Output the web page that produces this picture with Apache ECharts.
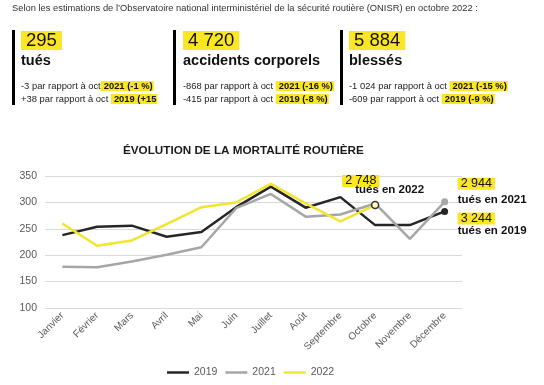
<!DOCTYPE html>
<html><head><meta charset="utf-8">
<script src="https://cdn.jsdelivr.net/npm/echarts@6/dist/echarts.min.js"></script>
<style>html,body{margin:0;padding:0;background:#fff}#c{width:544px;height:385px}</style>
</head><body><div id="c"></div>
<script>
// ---- data ----
const months = ['Janvier','Février','Mars','Avril','Mai','Juin','Juillet','Août','Septembre','Octobre','Novembre','Décembre'];
const deaths2019 = [238,254,256,235,244,291,330,290,310,257,257,283];
const deaths2021 = [178,177,188,201,215,289,316,273,277,298,231,301];
const deaths2022 = [260,218,228,259,291,300,335,298,264,295,null,null];
const yMin = 100, yMax = 350, yStep = 50;
const seriesNames = ['2019','2021','2022'];
const chartTitle = 'ÉVOLUTION DE LA MORTALITÉ ROUTIÈRE';
const intro = 'Selon les estimations de l\u2019Observatoire national interministériel de la sécurité routière (ONISR) en octobre 2022 :';
const kpiValues = ['295','4 720','5 884'];
const kpiLabels = ['tués','accidents corporels','blessés'];
const kpiLine1 = [['-3 par rapport à oct','2021 (-1 %)'],['-868 par rapport à oct ','2021 (-16 %)'],['-1 024 par rapport à oct ','2021 (-15 %)']];
const kpiLine2 = [['+38 par rapport à oct ','2019 (+15'],['-415 par rapport à oct ','2019 (-8 %)'],['-609 par rapport à oct ','2019 (-9 %)']];
const totals = {y2022:'2 748', y2021:'2 944', y2019:'3 244'};
const totalLabels = {y2022:'tués en 2022', y2021:'tués en 2021', y2019:'tués en 2019'};

// ---- style ----
const FONT = '"Liberation Sans", Arial, sans-serif';
const YEL = '#fbe626';
const C19 = '#262626', C21 = '#a6a6a6', C22 = '#f2e431';

const chart = echarts.init(document.getElementById('c'), null, {renderer:'canvas'});

const blockX = [21, 183, 349];
const barX = [12, 173, 340];
const base = [];
base.push({type:'text', x:12, y:4, style:{text:intro, fontFamily:FONT, fontSize:9.35, fill:'#333', verticalAlign:'top'}});
for (let i=0;i<3;i++){
  base.push({type:'rect', shape:{x:barX[i], y:30, width:3, height:75}, style:{fill:'#000'}});
  base.push({type:'text', x:blockX[i], y:31, style:{text:kpiValues[i], fontFamily:FONT, fontSize:18.5, lineHeight:19, fill:'#111', backgroundColor:YEL, padding:[0,5,0,5], verticalAlign:'top'}});
  base.push({type:'text', x:blockX[i], y:53, style:{text:kpiLabels[i], fontFamily:FONT, fontSize:14.5, fontWeight:'bold', fill:'#111', verticalAlign:'top'}});
  const rich = {h:{fontFamily:FONT, fontSize:9.4, fontWeight:'bold', fill:'#111', backgroundColor:YEL, padding:[1,1,0,3]}};
  base.push({type:'text', x:blockX[i], y:81, style:{text:kpiLine1[i][0]+'{h|'+kpiLine1[i][1]+'}', fontFamily:FONT, fontSize:9.4, fill:'#222', verticalAlign:'top', rich}});
  base.push({type:'text', x:blockX[i], y:94, style:{text:kpiLine2[i][0]+'{h|'+kpiLine2[i][1]+'}', fontFamily:FONT, fontSize:9.4, fill:'#222', verticalAlign:'top', rich}});
}

function endItem(v, style){ return {value:v, symbol:'circle', symbolSize:7, itemStyle:style}; }

const option = {
  animation:false,
  backgroundColor:'#fff',
  title:{text:chartTitle, left:123, top:145, padding:0, textStyle:{fontFamily:FONT, fontSize:11.7, fontWeight:'bold', color:'#1a1a1a'}},
  grid:{left:45, right:82, top:176, bottom:77},
  legend:{data:seriesNames, left:162, top:362, icon:'rect', itemWidth:22, itemHeight:2.5, itemGap:8,
    textStyle:{fontFamily:FONT, fontSize:10.5, color:'#595959'}},
  xAxis:{type:'category', data:months, boundaryGap:true,
    axisLine:{show:false}, axisTick:{show:false},
    axisLabel:{rotate:45, interval:0, fontFamily:FONT, fontSize:10, color:'#595959', margin:6}},
  yAxis:{type:'value', min:yMin, max:yMax, interval:yStep,
    axisLine:{show:false}, axisTick:{show:false},
    splitLine:{lineStyle:{color:'#d9d9d9', width:1}},
    axisLabel:{fontFamily:FONT, fontSize:10.5, color:'#595959', margin:8}},
  series:[
    {name:seriesNames[0], type:'line', symbol:'none', color:C19, lineStyle:{width:2.5, color:C19},
      data:deaths2019.map((v,i)=> i===11 ? endItem(v,{color:C19}) : v)},
    {name:seriesNames[1], type:'line', symbol:'none', color:C21, lineStyle:{width:2.5, color:C21},
      data:deaths2021.map((v,i)=> i===11 ? endItem(v,{color:C21}) : v)},
    {name:seriesNames[2], type:'line', symbol:'none', color:C22, lineStyle:{width:2.5, color:C22},
      data:deaths2022.map((v,i)=> i===9 ? endItem(v,{color:'#fff8c0', borderColor:'#333', borderWidth:1.5}) : v)}
  ],
  graphic: base
};
chart.setOption(option);

// annotations placed relative to data points
const toPx = (i,v)=>chart.convertToPixel({xAxisIndex:0,yAxisIndex:0},[i,v]);
const pOct = toPx(9, deaths2022[9]);
const pD21 = toPx(11, deaths2021[11]);
const pD19 = toPx(11, deaths2019[11]);
const numStyle = (t)=>({text:t, fontFamily:FONT, fontSize:12.5, lineHeight:12, fill:'#111', backgroundColor:YEL, padding:[0,3,0,3], verticalAlign:'top'});
const lblStyle = (t)=>({text:t, fontFamily:FONT, fontSize:11.5, fontWeight:'bold', fill:'#111', verticalAlign:'top'});
const notes = [
  {type:'text', x:pOct[0]-33, y:pOct[1]-30, style:numStyle(totals.y2022), z:10},
  {type:'text', x:pOct[0]-20, y:pOct[1]-21, style:lblStyle(totalLabels.y2022), z:10},
  {type:'text', x:pD21[0]+13, y:pD21[1]-24, style:numStyle(totals.y2021), z:10},
  {type:'text', x:pD21[0]+13, y:pD21[1]-8, style:lblStyle(totalLabels.y2021), z:10},
  {type:'text', x:pD19[0]+13, y:pD19[1]+1, style:numStyle(totals.y2019), z:10},
  {type:'text', x:pD19[0]+13, y:pD19[1]+13, style:lblStyle(totalLabels.y2019), z:10}
];
chart.setOption({graphic: base.concat(notes)});
</script>
</body></html>
